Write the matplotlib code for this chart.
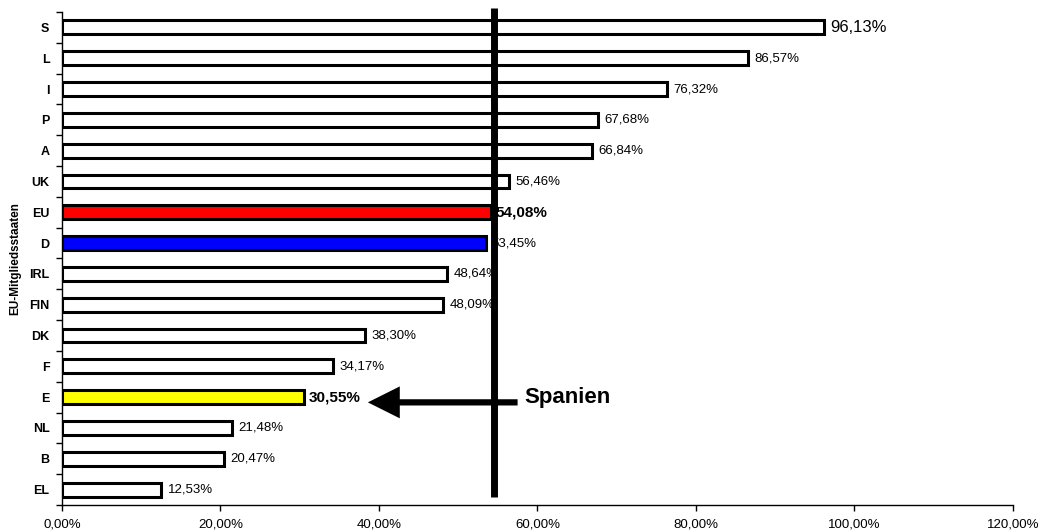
import numpy as np
import matplotlib.pyplot as plt
from matplotlib.ticker import FuncFormatter, MultipleLocator
import matplotlib.transforms as mtransforms

################################################################################
# Data
################################################################################
countries   = ["S", "L", "I", "P", "A", "UK", "EU", "D",
               "IRL", "FIN", "DK", "F", "E", "NL", "B", "EL"]
values      = [96.13, 86.57, 76.32, 67.68, 66.84, 56.46, 54.08, 53.45,
               48.64, 48.09, 38.30, 34.17, 30.55, 21.48, 20.47, 12.53]
fill_colors = {"EU": "#ff0000", "D": "#0000ff", "E": "#ffff00"}
bold_labels = ["EU", "E"]
ref_line_x  = 54.5
arrow_from  = 57.5
arrow_to    = 38.6

################################################################################
# Plot
################################################################################
plt.rcParams["font.family"] = ["Liberation Sans", "DejaVu Sans"]

fig = plt.figure(figsize=(10.42, 5.32), dpi=100)
ax = fig.add_axes([0.0595, 0.0508, 0.9125, 0.9267])

y_pos = np.arange(len(countries))
colors = [fill_colors.get(c, "white") for c in countries]
ax.barh(y_pos, values, height=0.45, color=colors, edgecolor="black",
        linewidth=2.2, zorder=2)

for i, (c, v) in enumerate(zip(countries, values)):
    txt = f"{v:.2f}%".replace(".", ",")
    if c in bold_labels:
        ax.text(v + 0.6, i, txt, va="center", ha="left", fontsize=11,
                fontweight="bold", zorder=1)
    elif i == 0:
        ax.text(v + 0.8, i, txt, va="center", ha="left", fontsize=12, zorder=1)
    else:
        ax.text(v + 0.8, i, txt, va="center", ha="left", fontsize=9.5, zorder=1)

# reference line
trans = mtransforms.blended_transform_factory(ax.transData, ax.transAxes)
ax.plot([ref_line_x, ref_line_x], [0.016, 1.008], color="black", lw=5,
        solid_capstyle="butt", transform=trans, clip_on=False, zorder=3)

# arrow pointing to Spain
iE = countries.index("E")
ax.annotate("", xy=(arrow_to, iE + 0.17), xytext=(arrow_from, iE + 0.17),
            arrowprops=dict(
                arrowstyle="simple,head_length=2.3,head_width=2.3,tail_width=0.45",
                mutation_scale=10, facecolor="black", edgecolor="black",
                lw=0, shrinkA=0, shrinkB=0),
            zorder=4)
ax.text(arrow_from + 0.8, iE + 0.02, "Spanien", ha="left", va="center",
        fontsize=16, fontweight="bold")

ax.set_xlim(0, 120)
ax.set_ylim(len(countries) - 0.5, -0.5)
ax.xaxis.set_major_locator(MultipleLocator(20))
ax.xaxis.set_major_formatter(
    FuncFormatter(lambda x, p: f"{x:.2f}%".replace(".", ",")))

ax.set_yticks(y_pos)
ax.set_yticklabels(countries, fontweight="bold", fontsize=9)
ax.set_yticks(np.arange(len(countries) + 1) - 0.5, minor=True)
ax.tick_params(axis="y", which="major", length=0, pad=9)
ax.tick_params(axis="y", which="minor", length=4, width=1, direction="out")
ax.tick_params(axis="x", which="major", length=4, width=1, labelsize=9.5, pad=6)

for side in ["top", "right"]:
    ax.spines[side].set_visible(False)
for side in ["left", "bottom"]:
    ax.spines[side].set_linewidth(1)

ax.set_ylabel("EU-Mitgliedsstaaten", fontweight="bold", fontsize=8.5,
              labelpad=6)

fig.savefig("out.png", dpi=100)
